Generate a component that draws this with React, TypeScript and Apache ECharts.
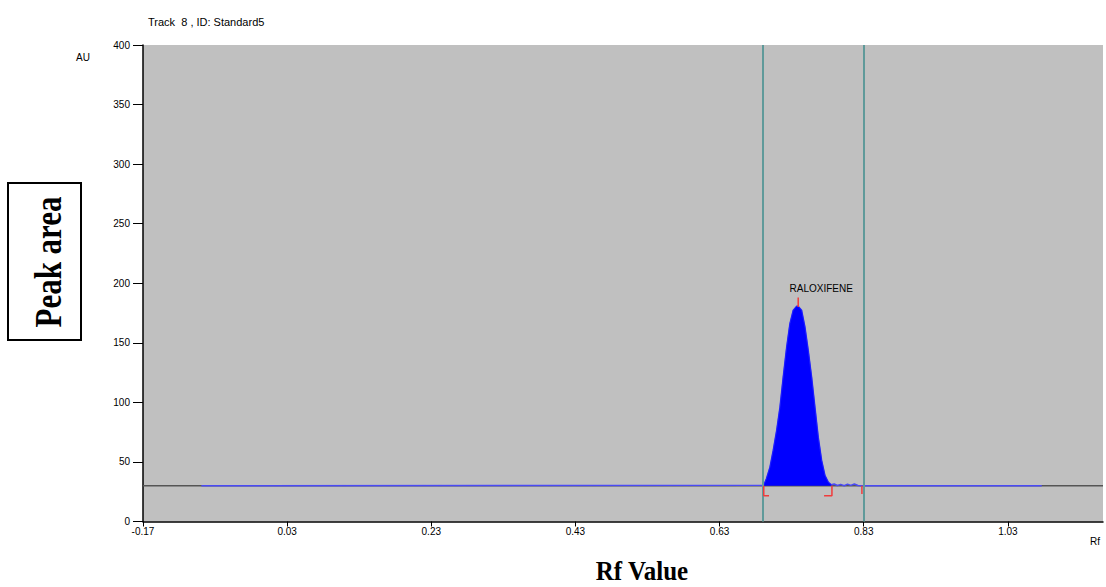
import React, { useEffect, useRef } from "react";
import * as echarts from "echarts";

// Densitogram trace (Rf, AU)
const traceRf = [-0.089, 0.6913, 0.6951, 0.6999, 0.7044, 0.7092, 0.7138, 0.7183, 0.7231, 0.7276, 0.7322, 0.7369, 0.7391, 0.7438, 0.7484, 0.753, 0.7577, 0.7623, 0.7669, 0.7716, 0.7762, 0.7808, 0.785, 0.789, 0.7935, 0.798, 0.803, 0.8075, 0.812, 0.817, 0.822, 0.8275, 1.077];
const traceAu = [30, 30.5, 36.1, 45.6, 59.7, 76.5, 96.0, 121.3, 146.5, 166.1, 177.3, 180.7, 180.7, 177.3, 163.3, 143.7, 121.3, 96.0, 70.8, 51.3, 38.7, 33.0, 30.8, 31.5, 30.2, 31.2, 30.0, 31.4, 30.3, 31.5, 30.2, 30, 30];

// Peak integration range
const peakStartRf = 0.6913;
const peakEndRf = 0.785;

// Baseline
const baselineRf = [-0.17, 1.162];
const baselineAu = [30, 30];

// Track window boundaries
const windowRf = [0.6915, 0.8275];

// Red peak markers
const apexMarkRf = [0.7391, 0.7391];
const apexMarkAu = [180, 188];
const startMarkRf = [0.6986, 0.6913, 0.6913];
const startMarkAu = [21.6, 21.6, 30];
const endMarkRf = [0.775, 0.7859, 0.7859];
const endMarkAu = [21.6, 21.6, 30];
const tailMarkRf = [0.8275, 0.8275];
const tailMarkAu = [30, 23];

const peakName = "RALOXIFENE";

const xMin = -0.17;
const xMax = 1.162;
const xStep = 0.2;
const yMin = 0;
const yMax = 400;
const yStep = 50;

const zip = (xs: number[], ys: number[]) => xs.map((x, i) => [x, ys[i]]);

export default function App() {
  const ref = useRef<HTMLDivElement>(null);
  useEffect(() => {
    if (!ref.current) return;
    const chart = echarts.init(ref.current, null, { renderer: "svg" });
    const trace = zip(traceRf, traceAu);
    const peak = trace.filter((p) => p[0] >= peakStartRf && p[0] <= peakEndRf);
    const sans = "Liberation Sans, Arial, sans-serif";
    const serif = "Liberation Serif, Times New Roman, serif";
    const red = "#f03c3c";
    const markSeries = (name: string, xs: number[], ys: number[], extra: any = {}) => ({
      name,
      type: "line",
      data: zip(xs, ys),
      symbol: "none",
      lineStyle: { color: red, width: 1.5 },
      z: 6,
      silent: true,
      ...extra,
    });
    const apexTop = [apexMarkRf[1], apexMarkAu[1]];
    chart.setOption({
      animation: false,
      backgroundColor: "#ffffff",
      title: {
        text: "Track  8 , ID: Standard5",
        left: 143,
        top: 11,
        textStyle: { fontSize: 11, fontWeight: "normal", color: "#000", fontFamily: sans },
      },
      grid: {
        left: 143,
        right: 3,
        top: 45,
        bottom: 65.5,
        show: true,
        backgroundColor: "#c0c0c0",
        borderWidth: 0,
      },
      xAxis: {
        type: "value",
        min: xMin,
        max: xMax,
        interval: xStep,
        splitLine: { show: false },
        axisLine: { show: true, onZero: false, lineStyle: { color: "#000", width: 1.5 } },
        axisTick: { show: true, length: 5, lineStyle: { color: "#000" } },
        axisLabel: {
          color: "#000",
          fontSize: 10,
          fontFamily: sans,
          margin: 5,
          showMaxLabel: false,
          formatter: (v: number) => v.toFixed(2),
        },
      },
      yAxis: {
        type: "value",
        min: yMin,
        max: yMax,
        interval: yStep,
        splitLine: { show: false },
        axisLine: { show: true, onZero: false, lineStyle: { color: "#000", width: 1.5 } },
        axisTick: { show: true, length: 10, lineStyle: { color: "#000" } },
        axisLabel: { color: "#000", fontSize: 10, fontFamily: sans, margin: 13 },
      },
      graphic: [
        { type: "text", x: 76, y: 57, style: { text: "AU", fontSize: 10, fontFamily: sans, fill: "#000", textVerticalAlign: "middle" } },
        { type: "text", x: 1090, y: 541, style: { text: "Rf", fontSize: 10, fontFamily: sans, fill: "#000", textVerticalAlign: "middle" } },
        { type: "rect", shape: { x: 8, y: 183, width: 73, height: 157 }, style: { fill: "none", stroke: "#000", lineWidth: 2 } },
        {
          type: "text",
          x: 48,
          y: 262,
          rotation: Math.PI / 2,
          scaleY: 1.2,
          style: { text: "Peak area", font: "bold 31px " + serif, fill: "#000", textAlign: "center", textVerticalAlign: "middle" },
        },
        {
          type: "text",
          x: 642,
          y: 571,
          scaleY: 1.05,
          style: { text: "Rf Value", font: "bold 25px " + serif, fill: "#000", textAlign: "center", textVerticalAlign: "middle" },
        },
      ],
      series: [
        {
          name: "baseline",
          type: "line",
          data: zip(baselineRf, baselineAu),
          symbol: "none",
          lineStyle: { color: "#555555", width: 1.5 },
          z: 2,
          silent: true,
        },
        {
          name: "trace",
          type: "line",
          data: trace,
          symbol: "none",
          lineStyle: { color: "#4a4af5", width: 1.5 },
          z: 3,
          silent: true,
        },
        {
          name: "peak",
          type: "line",
          data: peak,
          symbol: "none",
          lineStyle: { color: "#1a1aff", width: 1 },
          areaStyle: { color: "#0000ff", origin: 30, opacity: 1 },
          z: 4,
          silent: true,
        },
        {
          name: "window",
          type: "line",
          data: [],
          z: 5,
          silent: true,
          markLine: {
            symbol: ["none", "none"],
            silent: true,
            label: { show: false },
            lineStyle: { color: "#5f9a9a", width: 2, type: "solid" },
            data: windowRf.map((x) => ({ xAxis: x })),
          },
        },
        markSeries("apex", apexMarkRf, apexMarkAu, {
          markPoint: {
            silent: true,
            symbol: "circle",
            symbolSize: 0,
            data: [
              {
                coord: apexTop,
                label: {
                  show: true,
                  position: "top",
                  distance: 4,
                  offset: [23, 0],
                  formatter: peakName,
                  color: "#000",
                  fontSize: 10,
                  fontFamily: sans,
                },
              },
            ],
          },
        }),
        markSeries("start", startMarkRf, startMarkAu),
        markSeries("end", endMarkRf, endMarkAu),
        markSeries("tail", tailMarkRf, tailMarkAu),
      ],
    });
    return () => chart.dispose();
  }, []);
  return <div ref={ref} style={{ position: "fixed", left: 0, top: 0, width: 1106, height: 587 }} />;
}
